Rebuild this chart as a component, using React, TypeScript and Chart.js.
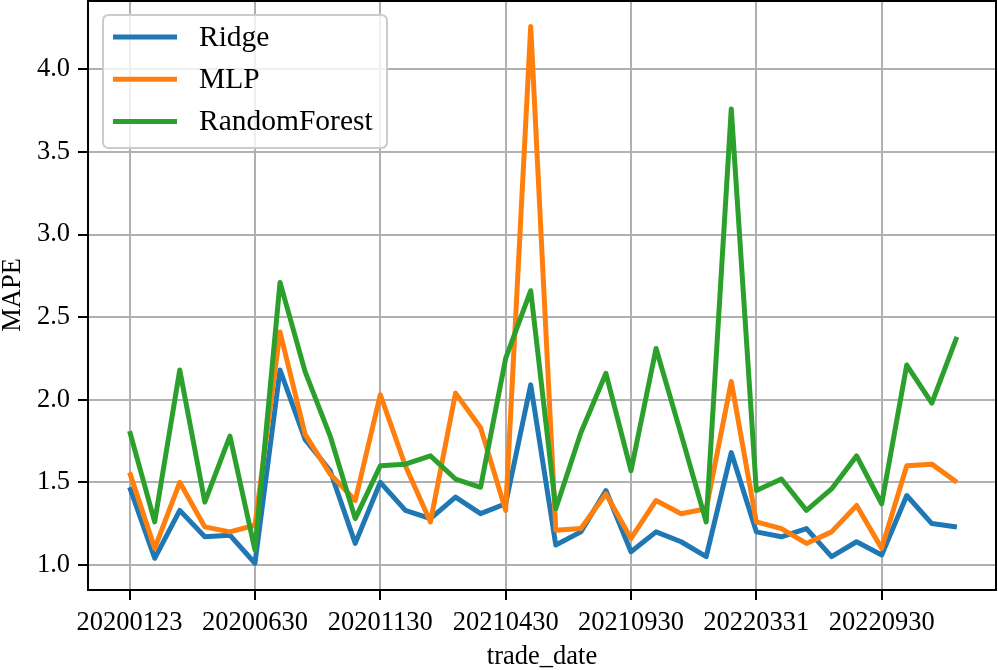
import React, { useEffect, useRef } from "react";
import { Chart, registerables } from "chart.js";

Chart.register(...registerables);

const tradeDates: string[] = [
  "20200123", "20200228", "20200331", "20200430", "20200529",
  "20200630", "20200731", "20200831", "20200930", "20201030",
  "20201130", "20201231", "20210129", "20210226", "20210331",
  "20210430", "20210531", "20210630", "20210730", "20210831",
  "20210930", "20211029", "20211130", "20211231", "20220228",
  "20220331", "20220429", "20220531", "20220630", "20220831",
  "20220930", "20221031", "20221130", "20221230",
];

const ridge: number[] = [
  1.47, 1.04, 1.33, 1.17, 1.18, 1.01, 2.18, 1.76, 1.57, 1.13,
  1.50, 1.33, 1.28, 1.41, 1.31, 1.37, 2.09, 1.12, 1.20, 1.45,
  1.08, 1.20, 1.14, 1.05, 1.68, 1.20, 1.17, 1.22, 1.05, 1.14,
  1.06, 1.42, 1.25, 1.23,
];

const mlp: number[] = [
  1.56, 1.10, 1.50, 1.23, 1.20, 1.24, 2.41, 1.79, 1.55, 1.39,
  2.03, 1.60, 1.26, 2.04, 1.83, 1.33, 4.26, 1.21, 1.22, 1.43,
  1.16, 1.39, 1.31, 1.34, 2.11, 1.26, 1.22, 1.13, 1.20, 1.36,
  1.10, 1.60, 1.61, 1.50,
];

const randomForest: number[] = [
  1.81, 1.26, 2.18, 1.38, 1.78, 1.09, 2.71, 2.17, 1.78, 1.28,
  1.60, 1.61, 1.66, 1.52, 1.47, 2.25, 2.66, 1.34, 1.80, 2.16,
  1.57, 2.31, 1.79, 1.26, 3.76, 1.45, 1.52, 1.33, 1.46, 1.66,
  1.37, 2.21, 1.98, 2.38,
];

const seriesNames: string[] = ["Ridge", "MLP", "RandomForest"];
const seriesColors: string[] = ["#1f77b4", "#ff7f0e", "#2ca02c"];
const xTickIndices: number[] = [0, 5, 10, 15, 20, 25, 30];
const yTickValues: number[] = [1.0, 1.5, 2.0, 2.5, 3.0, 3.5, 4.0];

const FONT_FAMILY = '"Liberation Serif", "Times New Roman", serif';
const FONT = { family: FONT_FAMILY, size: 26.5 };

const framePlugin = {
  id: "frameAndLegend",
  afterDatasetsDraw(chart: any) {
    const { ctx, chartArea } = chart;
    ctx.save();
    ctx.strokeStyle = "#000000";
    ctx.lineWidth = 2;
    ctx.strokeRect(chartArea.left, chartArea.top + 1, chartArea.right - chartArea.left, chartArea.bottom - chartArea.top - 1);
    ctx.restore();
  },
  afterDraw(chart: any) {
    const { ctx } = chart;
    const boxX = 103, boxY = 15, boxW = 284, boxH = 133, r = 6;
    ctx.save();
    ctx.beginPath();
    ctx.moveTo(boxX + r, boxY);
    ctx.lineTo(boxX + boxW - r, boxY);
    ctx.quadraticCurveTo(boxX + boxW, boxY, boxX + boxW, boxY + r);
    ctx.lineTo(boxX + boxW, boxY + boxH - r);
    ctx.quadraticCurveTo(boxX + boxW, boxY + boxH, boxX + boxW - r, boxY + boxH);
    ctx.lineTo(boxX + r, boxY + boxH);
    ctx.quadraticCurveTo(boxX, boxY + boxH, boxX, boxY + boxH - r);
    ctx.lineTo(boxX, boxY + r);
    ctx.quadraticCurveTo(boxX, boxY, boxX + r, boxY);
    ctx.closePath();
    ctx.fillStyle = "rgba(255,255,255,0.8)";
    ctx.fill();
    ctx.strokeStyle = "#cccccc";
    ctx.lineWidth = 2;
    ctx.stroke();

    const datasets = chart.data.datasets;
    ctx.font = `29.5px ${FONT_FAMILY}`;
    ctx.textBaseline = "middle";
    ctx.textAlign = "left";
    datasets.forEach((ds: any, i: number) => {
      const y = 37 + i * 42.2;
      ctx.beginPath();
      ctx.moveTo(113, y);
      ctx.lineTo(177, y);
      ctx.strokeStyle = ds.borderColor;
      ctx.lineWidth = 5;
      ctx.lineCap = "butt";
      ctx.stroke();
      ctx.fillStyle = "#000000";
      ctx.fillText(ds.label, 199, y + 1);
    });
    ctx.restore();
  },
};

export default function App() {
  const canvasRef = useRef<HTMLCanvasElement | null>(null);

  useEffect(() => {
    document.body.style.margin = "0";
    const canvas = canvasRef.current;
    if (!canvas) return;
    const seriesValues = [ridge, mlp, randomForest];
    const chart = new Chart(canvas, {
      type: "line",
      data: {
        datasets: seriesValues.map((vals, si) => ({
          label: seriesNames[si],
          data: vals.map((v, i) => ({ x: i, y: v })),
          borderColor: seriesColors[si],
          backgroundColor: seriesColors[si],
          borderWidth: 5,
          pointRadius: 0,
          tension: 0,
          fill: false,
          borderJoinStyle: "round",
          borderCapStyle: "butt",
          order: 3 - si,
        })),
      },
      options: {
        animation: false,
        responsive: false,
        devicePixelRatio: 1,
        layout: { padding: { left: 0, right: 2, top: 0, bottom: 0 } },
        plugins: {
          legend: { display: false },
          tooltip: { enabled: false },
        },
        scales: {
          x: {
            type: "linear",
            min: -1.66,
            max: 34.56,
            afterBuildTicks: (s: any) => {
              s.ticks = xTickIndices.map((v) => ({ value: v }));
            },
            afterFit: (s: any) => {
              s.height = 80;
              s.paddingLeft = 0;
              s.paddingRight = 0;
            },
            ticks: {
              autoSkip: false,
              maxRotation: 0,
              minRotation: 0,
              color: "#000000",
              font: FONT,
              padding: 7,
              callback: (v: any) => tradeDates[Math.round(Number(v))] ?? "",
            },
            grid: {
              color: "#b0b0b0",
              lineWidth: 2,
              drawTicks: true,
              tickLength: 10,
              tickColor: "#000000",
              tickWidth: 2,
            },
            border: { display: true, color: "#000000", width: 2 },
            title: {
              display: true,
              text: "trade_date",
              color: "#000000",
              font: FONT,
              padding: { top: 0, bottom: -3 },
            },
          },
          y: {
            type: "linear",
            min: 0.848,
            max: 4.42,
            afterBuildTicks: (s: any) => {
              s.ticks = yTickValues.map((v) => ({ value: v }));
            },
            afterFit: (s: any) => {
              s.width = 88;
              s.paddingTop = 0;
              s.paddingBottom = 0;
            },
            ticks: {
              color: "#000000",
              font: FONT,
              padding: 8,
              callback: (v: any) => Number(v).toFixed(1),
            },
            grid: {
              color: "#b0b0b0",
              lineWidth: 2,
              drawTicks: true,
              tickLength: 10,
              tickColor: "#000000",
              tickWidth: 2,
            },
            border: { display: true, color: "#000000", width: 2 },
            title: {
              display: true,
              text: "MAPE",
              color: "#000000",
              font: { ...FONT, lineHeight: 1 },
              padding: { top: 0, bottom: 0 },
            },
          },
        },
      },
      plugins: [framePlugin],
    } as any);
    return () => chart.destroy();
  }, []);

  return (
    <canvas
      ref={canvasRef}
      width={998}
      height={670}
      style={{ display: "block", width: 998, height: 670 }}
    />
  );
}
